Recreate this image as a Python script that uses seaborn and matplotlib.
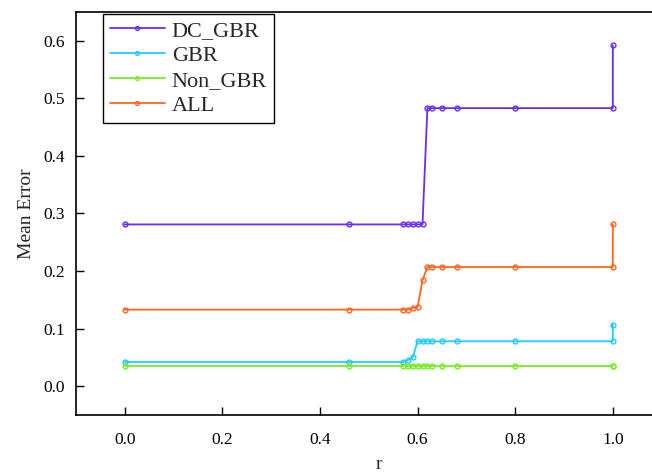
import matplotlib
matplotlib.use("Agg")
import matplotlib.pyplot as plt
import seaborn as sns
import pandas as pd

r = [0.0, 0.46, 0.57, 0.58, 0.59, 0.60, 0.61, 0.62, 0.63, 0.65, 0.68, 0.80, 1.0, 1.0]
dc_gbr = [0.281, 0.281, 0.281, 0.281, 0.281, 0.281, 0.281, 0.483, 0.483, 0.483, 0.483, 0.483, 0.483, 0.592]
gbr = [0.042, 0.042, 0.042, 0.045, 0.050, 0.078, 0.078, 0.078, 0.078, 0.078, 0.078, 0.078, 0.078, 0.107]
non_gbr = [0.035, 0.035, 0.035, 0.035, 0.035, 0.035, 0.035, 0.035, 0.035, 0.035, 0.035, 0.035, 0.035, 0.035]
all_ = [0.133, 0.133, 0.133, 0.133, 0.136, 0.137, 0.184, 0.207, 0.207, 0.207, 0.207, 0.207, 0.207, 0.281]

series_names = ["DC_GBR", "GBR", "Non_GBR", "ALL"]
series_values = [dc_gbr, gbr, non_gbr, all_]
colors = ["#6A2BFF", "#22CCFF", "#77EE22", "#FF6622"]

x_ticks = [0.0, 0.2, 0.4, 0.6, 0.8, 1.0]
y_ticks = [0.0, 0.1, 0.2, 0.3, 0.4, 0.5, 0.6]

sns.set_style("ticks")
plt.rcParams["font.family"] = ["Liberation Serif", "DejaVu Serif"]

fig = plt.figure(figsize=(6.52, 4.72), dpi=100)
ax = fig.add_axes([0.1166, 0.1208, 0.93, 0.8538])

for name, vals, c in zip(series_names, series_values, colors):
    df = pd.DataFrame({"r": r, "val": vals})
    sns.lineplot(data=df, x="r", y="val", ax=ax, estimator=None, sort=False,
                 color=c, linewidth=1.3, marker="o", markersize=3.5,
                 markerfacecolor="none", markeredgecolor=c, markeredgewidth=1.0,
                 label=name)

ax.set_xlim(-0.1, -0.1 + 0.93 * 652 / 488)
ax.set_ylim(-0.05, 0.65)
ax.set_xticks(x_ticks)
ax.set_xticklabels([f"{v:.1f}" for v in x_ticks])
ax.set_yticks(y_ticks)
ax.set_yticklabels([f"{v:.1f}" for v in y_ticks])
ax.tick_params(axis="both", direction="in", length=6, width=1, labelsize=12.5, colors="black")
ax.tick_params(axis="x", pad=12)
ax.tick_params(axis="y", pad=8)
for s in ax.spines.values():
    s.set_color("black")
    s.set_linewidth(1.2)

ax.set_xlabel("r", fontsize=14, labelpad=6)
ax.set_ylabel("Mean Error", fontsize=14, labelpad=6)

leg = ax.legend(loc="upper left", bbox_to_anchor=(0.0443, 0.995), borderaxespad=0,
                fontsize=16, frameon=True, fancybox=False, edgecolor="black",
                handlelength=2.5, handletextpad=0.3, labelspacing=0.2,
                borderpad=0.3, markerscale=0.8)
leg.get_frame().set_linewidth(1.0)
leg.get_frame().set_alpha(1)

fig.savefig("out.png", dpi=100)
